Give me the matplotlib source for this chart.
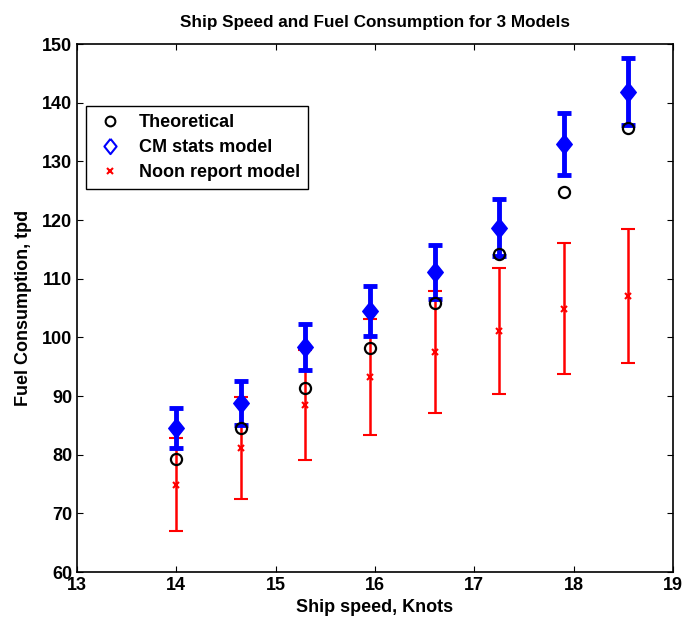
import matplotlib
matplotlib.use("Agg")
import matplotlib.pyplot as plt
from matplotlib.lines import Line2D

plt.rcParams['font.family'] = ['Liberation Sans', 'DejaVu Sans']
plt.rcParams['font.weight'] = 'bold'

speed = [14.0, 14.65, 15.3, 15.95, 16.6, 17.25, 17.9, 18.55]
theoretical = [79.3, 84.6, 91.4, 98.2, 105.8, 114.2, 124.8, 135.7]
cm_stats = [84.6, 88.8, 98.3, 104.5, 111.2, 118.7, 132.9, 141.9]
cm_err = [3.4, 3.7, 3.9, 4.2, 4.6, 4.9, 5.3, 5.7]
noon = [74.9, 81.1, 88.5, 93.2, 97.5, 101.1, 104.9, 107.1]
noon_err = [7.9, 8.7, 9.4, 9.9, 10.4, 10.8, 11.2, 11.4]

diamond = [(0, 1), (0.8, 0), (0, -1), (-0.8, 0), (0, 1)]

fig = plt.figure(figsize=(6.83, 6.19), dpi=100)
ax = fig.add_axes([0.1127, 0.0759, 0.8727, 0.853])

ax.errorbar(speed, noon, yerr=noon_err, fmt='x', color='red', ecolor='red',
            elinewidth=1.8, capsize=5, capthick=1.8, markersize=4, markeredgewidth=1.5, zorder=2)
ax.errorbar(speed, cm_stats, yerr=cm_err, fmt='none', ecolor='blue',
            elinewidth=3.5, capsize=5, capthick=3.5, zorder=3)
ax.plot(speed, cm_stats, ls='none', marker=diamond, color='blue', markersize=14, zorder=3)
ax.plot(speed, theoretical, 'o', mfc='none', mec='black', markersize=8, markeredgewidth=1.6, zorder=4)

ax.set_xlim(13, 19)
ax.set_ylim(60, 150)
ax.set_xticks([13, 14, 15, 16, 17, 18, 19])
ax.set_yticks(list(range(60, 151, 10)))
ax.tick_params(direction='in', top=True, right=True, labelsize=13, length=4, width=0.8)
for lab in ax.get_xticklabels() + ax.get_yticklabels():
    lab.set_fontweight('bold')
for s in ax.spines.values():
    s.set_linewidth(1.2)

ax.set_title('Ship Speed and Fuel Consumption for 3 Models', fontsize=12.3, fontweight='bold', pad=12)
ax.set_xlabel('Ship speed, Knots', fontsize=13, fontweight='bold', labelpad=4)
ax.set_ylabel('Fuel Consumption, tpd', fontsize=13, fontweight='bold', labelpad=7)

handles = [
    Line2D([], [], ls='none', marker='o', mfc='none', mec='black', markersize=7, markeredgewidth=1.5),
    Line2D([], [], ls='none', marker=diamond, mfc='none', mec='blue', markersize=11, markeredgewidth=1.5),
    Line2D([], [], ls='none', marker='x', color='red', markersize=4, markeredgewidth=1.5),
]
leg = ax.legend(handles, ['Theoretical', 'CM stats model', 'Noon report model'],
                loc='upper left', bbox_to_anchor=(0.015, 0.8826), borderaxespad=0, fontsize=13,
                frameon=True, fancybox=False, edgecolor='black', framealpha=1,
                handletextpad=0.7, labelspacing=0.45, borderpad=0.45, handlelength=1.8)
leg.get_frame().set_linewidth(1.0)
for t in leg.get_texts():
    t.set_fontweight('bold')

fig.savefig('out.png', dpi=100)
